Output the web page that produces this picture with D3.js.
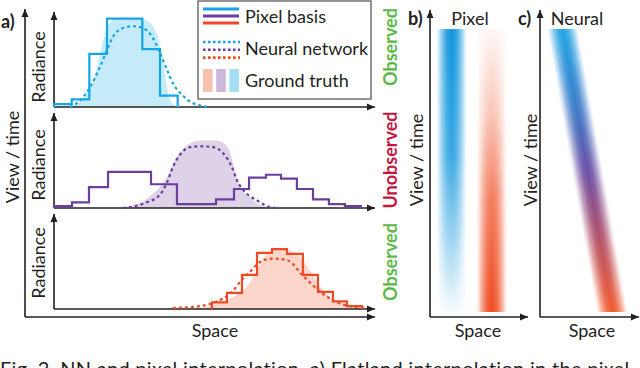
<!DOCTYPE html>
<html>
<head>
<meta charset="utf-8">
<script src="https://cdn.jsdelivr.net/npm/d3@7"></script>
<style>
  body { margin: 0; background: #fff; }
  svg { display: block; font-family: Lato, "Open Sans", sans-serif; }
</style>
</head>
<body>
<svg id="fig" width="640" height="368"></svg>
<script>
// space runs 0..18 (about one unit per pixel-basis cell), radiance 0..1
var topPixelEdges = [0, 1.0, 2.0, 3.0, 5.0, 6.0, 7.0];
var topPixelLevels = [0.03, 0.08, 0.56, 0.93, 0.61, 0.12];
var topNeural = [[0.9,0],[1.3,0.04],[2.04,0.21],[2.6,0.42],[3.0,0.6],[3.34,0.74],[3.9,0.83],[4.47,0.85],
                 [5.04,0.83],[5.55,0.74],[6.0,0.57],[6.4,0.39],[6.73,0.25],[7.24,0.13],[7.87,0.04],[8.83,0]];
var topTruth = [[0.34,0],[1.19,0.03],[1.75,0.11],[2.32,0.34],[2.72,0.65],[3.06,0.86],[3.45,0.93],[4.02,0.94],
                [4.87,0.93],[5.43,0.89],[5.83,0.76],[6.11,0.55],[6.34,0.28],[6.57,0.07],[7.02,0]];

var midPixelEdges = [0, 1.02, 1.98, 3.06, 5.49, 6.96, 9.17, 10.19, 11.04, 12.0, 12.85, 13.75, 14.66, 15.56, 16.47, 17.37];
var midPixelLevels = [0.02, 0.06, 0.22, 0.38, 0.25, 0.04, 0.09, 0.2, 0.32, 0.35, 0.31, 0.2, 0.09, 0.04, 0.02];
var midNeural = [[3.9,0],[4.3,0.01],[5.26,0.06],[6.0,0.14],[6.4,0.27],[6.73,0.43],[7.13,0.56],[7.7,0.64],[8.26,0.65],
                 [9.0,0.64],[9.56,0.58],[10.07,0.43],[10.36,0.29],[10.81,0.17],[11.49,0.08],[12.22,0.01],[12.68,0]];
var midTruth = [[3.9,0],[5.43,0.12],[6.4,0.33],[6.96,0.54],[7.53,0.66],[8.26,0.71],[9.22,0.71],[9.85,0.64],
                [10.07,0.51],[10.3,0.35],[10.58,0.21],[11.09,0.11],[11.83,0.02],[12.62,0]];

var botPixelEdges = [8.94, 9.79, 10.64, 11.49, 12.34, 13.19, 14.09, 14.94, 15.79, 16.58, 17.43];
var botPixelLevels = [0.07, 0.17, 0.36, 0.59, 0.63, 0.58, 0.36, 0.18, 0.08, 0.03];
var botNeural = [[6.73,0.01],[8.26,0.03],[9.22,0.08],[9.96,0.16],[10.7,0.32],[11.09,0.39],[11.49,0.47],[11.94,0.52],
                 [12.51,0.53],[13.24,0.51],[14.09,0.35],[15.22,0.16],[16.02,0.07],[17.15,0.02],[17.6,0.01]];
var botTruth = [[7.98,0],[9.11,0.05],[10.24,0.14],[11.09,0.28],[11.66,0.47],[12.11,0.59],[12.79,0.63],[13.47,0.61],
                [13.92,0.55],[14.49,0.4],[15.17,0.21],[15.9,0.09],[16.75,0.04],[17.43,0.01],[17.77,0]];

var legendLabels = ["Pixel basis", "Neural network", "Ground truth"];
var sideLabels = ["Observed", "Unobserved", "Observed"];

// panels b) and c): space 0..1, view/time 0..1
var bandSpan = [0.016, 0.938];
var bandWidth = 0.315;
var pixelCenters = [0.22, 0.63];
var neuralCenters = [0.73, 0.227];   // at bandSpan[0], bandSpan[1]

var ink = "#231f20";
var svg = d3.select("#fig");
var defs = svg.append("defs");

defs.append("marker")
    .attr("id", "arrow")
    .attr("viewBox", "0 -4 8 8")
    .attr("refX", 8).attr("refY", 0)
    .attr("markerWidth", 8).attr("markerHeight", 8)
    .attr("markerUnits", "userSpaceOnUse")
    .attr("orient", "auto")
  .append("path")
    .attr("d", "M0,-3.5L8,0L0,3.5Z")
    .attr("fill", ink);

function arrowLine(x1, y1, x2, y2) {
  svg.append("line")
    .attr("x1", x1).attr("y1", y1).attr("x2", x2).attr("y2", y2)
    .attr("stroke", ink).attr("stroke-width", 1.6)
    .attr("marker-end", "url(#arrow)");
}

function vText(txt, x, y, opts) {
  opts = opts || {};
  svg.append("text")
    .attr("transform", "translate(" + x + "," + y + ") rotate(-90)")
    .attr("text-anchor", "middle")
    .attr("dominant-baseline", "central")
    .style("font-size", (opts.size || 18) + "px")
    .style("font-weight", opts.bold ? "bold" : "normal")
    .attr("fill", opts.color || ink)
    .text(txt);
}

function hText(txt, x, y, opts) {
  opts = opts || {};
  return svg.append("text")
    .attr("x", x).attr("y", y)
    .attr("text-anchor", opts.anchor || "middle")
    .style("font-size", (opts.size || 18) + "px")
    .style("font-weight", opts.bold ? "bold" : "normal")
    .attr("fill", opts.color || ink)
    .text(txt);
}

// ---- panel a) ----
var xSpace = d3.scaleLinear().domain([0, 18]).range([54, 372]);

var panels = [
  { base: 107, edges: topPixelEdges, levels: topPixelLevels, neural: topNeural, truth: topTruth,
    line: "#14a6e4", fill: "#c6ebf8", label: sideLabels[0], labelColor: "#5cb947", labelY: 47, radY: 67 },
  { base: 208, edges: midPixelEdges, levels: midPixelLevels, neural: midNeural, truth: midTruth,
    line: "#6b3f9e", fill: "#ddd2e7", label: sideLabels[1], labelColor: "#c4173f", labelY: 160, radY: 165 },
  { base: 309, edges: botPixelEdges, levels: botPixelLevels, neural: botNeural, truth: botTruth,
    line: "#ef4a24", fill: "#fcd6ca", label: sideLabels[2], labelColor: "#5cb947", labelY: 262, radY: 263 }
];

panels.forEach(function(p) {
  var y = d3.scaleLinear().domain([0, 1]).range([p.base, p.base - 95]);

  svg.append("path")
    .datum(p.truth)
    .attr("d", d3.area().curve(d3.curveMonotoneX)
      .x(function(d) { return xSpace(d[0]); })
      .y0(y(0))
      .y1(function(d) { return y(d[1]); }))
    .attr("fill", p.fill);

  arrowLine(xSpace(0), y(0), xSpace(0), y(1));
  arrowLine(xSpace(0), y(0), 375, y(0));

  svg.append("path")
    .datum(p.neural)
    .attr("d", d3.line().curve(d3.curveMonotoneX)
      .x(function(d) { return xSpace(d[0]); })
      .y(function(d) { return y(d[1]); }))
    .attr("fill", "none")
    .attr("stroke", p.line)
    .attr("stroke-width", 2.2)
    .attr("stroke-dasharray", "3,3");

  var pts = [[p.edges[0], 0]].concat(p.edges.map(function(e, i) {
    return [e, i < p.levels.length ? p.levels[i] : 0];
  }));
  svg.append("path")
    .datum(pts)
    .attr("d", d3.line().curve(d3.curveStepAfter)
      .x(function(d) { return xSpace(d[0]); })
      .y(function(d) { return y(d[1]); }))
    .attr("fill", "none")
    .attr("stroke", p.line)
    .attr("stroke-width", 2.2);

  vText("Radiance", 38, p.radY);
  vText(p.label, 390, p.labelY, { bold: true, color: p.labelColor });
});

// outer view/time axes
arrowLine(25, 317, 25, 9);
arrowLine(25, 317, 375, 317);
vText("View / time", 12, 157);
hText("Space", 215, 337);
hText("a)", 1, 28, { anchor: "start", bold: true });

// legend
var lg = svg.append("g").attr("transform", "translate(198,1)");
lg.append("rect")
  .attr("width", 173).attr("height", 98)
  .attr("fill", "#fff").attr("stroke", "#5a5a5a").attr("stroke-width", 1.3);
var legendColors = [panels[0].line, panels[1].line, panels[2].line];
legendColors.forEach(function(c, i) {
  lg.append("line").attr("x1", 5).attr("x2", 41)
    .attr("y1", 8 + i * 7).attr("y2", 8 + i * 7)
    .attr("stroke", c).attr("stroke-width", 3);
  lg.append("line").attr("x1", 5).attr("x2", 42)
    .attr("y1", 41 + i * 7.8).attr("y2", 41 + i * 7.8)
    .attr("stroke", c).attr("stroke-width", 2.6)
    .attr("stroke-dasharray", "2.6,2.4");
});
["#f8c0af", "#cab7da", "#a5ddf4"].forEach(function(c, i) {
  lg.append("rect").attr("x", 5 + i * 13.2).attr("y", 68)
    .attr("width", 9.5).attr("height", 23).attr("fill", c);
});
legendLabels.forEach(function(t, i) {
  lg.append("text").attr("x", 47).attr("y", [22, 54, 86][i])
    .style("font-size", "18px").attr("fill", ink).text(t);
});

// ---- panels b) and c) ----
var hProfile = [[0,0],[0.08,0.18],[0.2,0.55],[0.35,0.88],[0.5,1],[0.65,0.88],[0.8,0.55],[0.92,0.18],[1,0]];
var blueFade = [[0,1],[0.45,0.82],[0.75,0.4],[1,0.04]];
var redFade = [[0,0.05],[0.3,0.32],[0.6,0.72],[1,1]];
var neuralStops = [[0,"#0f9fe3"],[0.28,"#2c6fc4"],[0.5,"#5e3f9e"],[0.72,"#a8425f"],[1,"#f24d1d"]];

function gradient(id, vertical, stops, colorFn, opFn) {
  var g = defs.append("linearGradient").attr("id", id)
    .attr("x1", 0).attr("y1", 0)
    .attr("x2", vertical ? 0 : 1).attr("y2", vertical ? 1 : 0);
  g.selectAll("stop").data(stops).enter().append("stop")
    .attr("offset", function(d) { return d[0]; })
    .attr("stop-color", colorFn)
    .attr("stop-opacity", opFn);
}
function mask(id, gradId) {
  defs.append("mask").attr("id", id).attr("maskContentUnits", "objectBoundingBox")
    .append("rect").attr("width", 1).attr("height", 1).attr("fill", "url(#" + gradId + ")");
}
gradient("hProf", false, hProfile, function() { return "#fff"; }, function(d) { return d[1]; });
gradient("blueF", true, blueFade, function() { return "#fff"; }, function(d) { return d[1]; });
gradient("redF", true, redFade, function() { return "#fff"; }, function(d) { return d[1]; });
gradient("neuralC", true, neuralStops, function(d) { return d[1]; }, function() { return 1; });
mask("mH", "hProf");
mask("mBlue", "blueF");
mask("mRed", "redF");

var xb = d3.scaleLinear().domain([0, 1]).range([430, 528]);
var xc = d3.scaleLinear().domain([0, 1]).range([540, 639]);
var yt = d3.scaleLinear().domain([0, 1]).range([317, 10]);
var bandTop = yt(bandSpan[1]), bandH = yt(bandSpan[0]) - yt(bandSpan[1]);

[["#0e95dc", "mBlue"], ["#ee4a1f", "mRed"]].forEach(function(b, i) {
  var c = pixelCenters[i];
  svg.append("g").attr("mask", "url(#" + b[1] + ")")
    .append("rect")
      .attr("x", xb(c - bandWidth / 2)).attr("y", bandTop)
      .attr("width", xb(bandWidth) - xb(0)).attr("height", bandH)
      .attr("fill", b[0])
      .attr("mask", "url(#mH)");
});

var k = (xc(neuralCenters[0]) - xc(neuralCenters[1])) / bandH;
var cx0 = xc(neuralCenters[1]) - bandTop * k;
var wC = xc(bandWidth) - xc(0);
svg.append("g")
    .attr("transform", "matrix(1,0," + k + ",1," + cx0 + ",0)")
    .attr("opacity", 0.92)
  .append("rect")
    .attr("x", -wC / 2).attr("y", bandTop)
    .attr("width", wC).attr("height", bandH)
    .attr("fill", "url(#neuralC)")
    .attr("mask", "url(#mH)");

arrowLine(xb(0), yt(0), xb(0), yt(1));
arrowLine(xb(0), yt(0), xb(1), yt(0));
arrowLine(xc(0), yt(0), xc(0), yt(1));
arrowLine(xc(0), yt(0), xc(1), yt(0));

hText("b)", 408, 25, { anchor: "start", bold: true });
hText("Pixel", 470, 25);
hText("c)", 518, 25, { anchor: "start", bold: true });
hText("Neural", 577, 25);
vText("View / time", 416, 160);
vText("View / time", 530, 160);
hText("Space", 478, 337);
hText("Space", 592, 337);

// caption, cut by the page edge as in the source figure
hText("Fig. 2.  NN and pixel interpolation. a) Flatland interpolation in the pixel", 0, 376, { anchor: "start", size: 20 })
  .style("letter-spacing", "0.3px");
</script>
</body>
</html>
